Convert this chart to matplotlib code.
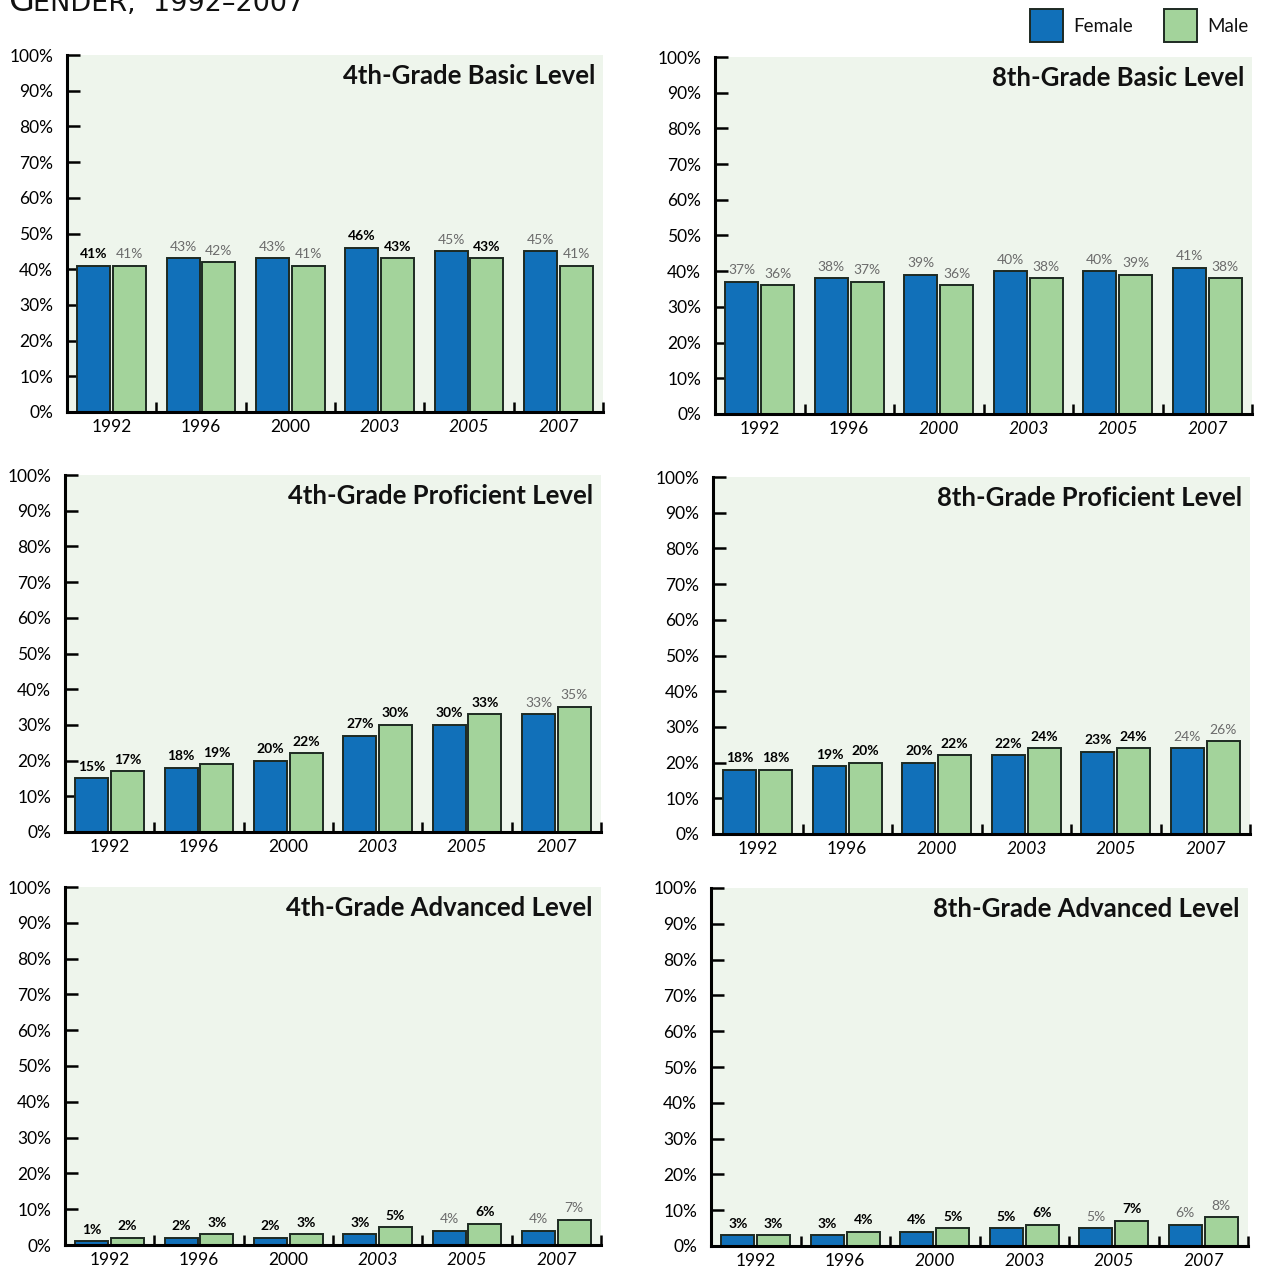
"""
NAEP reading levels by gender, 1992-2007 (six panels, female vs male).
"""

import matplotlib.pyplot as plt
from matplotlib.patches import Rectangle
import numpy as np

plt.rcParams["font.family"] = ["Lato", "DejaVu Sans"]

# ── data ──────────────────────────────────────────────────────────────────────
years = ["1992", "1996", "2000", "2003", "2005", "2007"]

titles = [
    "4th-Grade Basic Level", "8th-Grade Basic Level",
    "4th-Grade Proficient Level", "8th-Grade Proficient Level",
    "4th-Grade Advanced Level", "8th-Grade Advanced Level",
]

female = [
    [41, 43, 43, 46, 45, 45],
    [37, 38, 39, 40, 40, 41],
    [15, 18, 20, 27, 30, 33],
    [18, 19, 20, 22, 23, 24],
    [1, 2, 2, 3, 4, 4],
    [3, 3, 4, 5, 5, 6],
]
male = [
    [41, 42, 41, 43, 43, 41],
    [36, 37, 36, 38, 39, 38],
    [17, 19, 22, 30, 33, 35],
    [18, 20, 22, 24, 24, 26],
    [2, 3, 3, 5, 6, 7],
    [3, 4, 5, 6, 7, 8],
]

# 1 = label shown bold/black, 0 = plain/grey
female_bold = [
    [1, 0, 0, 1, 0, 0],
    [0, 0, 0, 0, 0, 0],
    [1, 1, 1, 1, 1, 0],
    [1, 1, 1, 1, 1, 0],
    [1, 1, 1, 1, 0, 0],
    [1, 1, 1, 1, 0, 0],
]
male_bold = [
    [0, 0, 0, 1, 1, 0],
    [0, 0, 0, 0, 0, 0],
    [1, 1, 1, 1, 1, 0],
    [1, 1, 1, 1, 1, 0],
    [1, 1, 1, 1, 1, 0],
    [1, 1, 1, 1, 1, 0],
]

# italic year labels (4th grade vs 8th grade panels)
italic_4th = [0, 0, 0, 1, 1, 1]
italic_8th = [0, 0, 1, 1, 1, 1]

COLORS = {
    "female": "#1170B9",
    "male":   "#A3D39B",
    "edge":   "#1E2A22",
    "panel":  "#EEF5EC",
    "grey":   "#6B6B6B",
}

W, H = 1261, 1270
# (left, top, right, bottom) of each plot area in pixels
PANELS = [
    (67, 55, 603, 412), (715, 57, 1252, 414),
    (65, 475, 601, 832), (713, 477, 1250, 834),
    (65, 887, 601, 1245), (711, 888, 1248, 1246),
]


def draw_panel(ax, k):
    x = np.arange(len(years))
    bw, off = 0.37, 0.2
    ax.set_facecolor(COLORS["panel"])
    ax.bar(x - off, female[k], bw, color=COLORS["female"],
           edgecolor=COLORS["edge"], linewidth=1.4, zorder=3)
    ax.bar(x + off, male[k], bw, color=COLORS["male"],
           edgecolor=COLORS["edge"], linewidth=1.4, zorder=3)

    for i in range(len(years)):
        for xx, v, b in ((x[i] - off, female[k][i], female_bold[k][i]),
                         (x[i] + off, male[k][i], male_bold[k][i])):
            ax.annotate(f"{v}%", (xx, v), xytext=(0, 4), textcoords="offset points",
                        ha="center", va="bottom", fontsize=10,
                        fontweight="bold" if b else "normal",
                        color="black" if b else COLORS["grey"], zorder=4)

    ax.set_xlim(-0.5, len(years) - 0.5)
    ax.set_ylim(0, 100)
    ax.set_yticks(range(0, 101, 10))
    ax.set_yticklabels([f"{t}%" for t in range(0, 101, 10)])
    ax.tick_params(axis="y", direction="in", length=9, width=1.8,
                   labelsize=12.5, pad=10)

    # boundary ticks between year groups, labels at group centres
    ax.set_xticks(x + 0.5)
    ax.set_xticklabels([])
    ax.tick_params(axis="x", which="major", direction="in", length=7, width=1.8)
    ax.set_xticks(x, minor=True)
    ax.set_xticklabels(years, minor=True)
    ax.tick_params(axis="x", which="minor", length=0, labelsize=12.5, pad=5)
    ital = italic_4th if k % 2 == 0 else italic_8th
    for lab, it in zip(ax.get_xticklabels(minor=True), ital):
        if it:
            lab.set_fontstyle("italic")

    for s in ("top", "right"):
        ax.spines[s].set_visible(False)
    for s in ("left", "bottom"):
        ax.spines[s].set_linewidth(2.2)
        ax.spines[s].set_zorder(5)

    ax.text(0.985, 0.975, titles[k], transform=ax.transAxes, ha="right",
            va="top", fontsize=18.5, fontweight="bold", color="#111111", zorder=6)


fig = plt.figure(figsize=(W / 100, H / 100), dpi=100)
fig.patch.set_facecolor("white")

for k, (l, t, r, b) in enumerate(PANELS):
    ax = fig.add_axes([l / W, 1 - b / H, (r - l) / W, (b - t) / H])
    draw_panel(ax, k)

# ── title (cut off at top, as in the source page) ────────────────────────────
fig.text(8 / W, 1 - 11 / H, "G", fontsize=24, color="#111111",
         va="baseline", ha="left", family="DejaVu Sans")
fig.text(33 / W, 1 - 11 / H, "ENDER,  1992–2007", fontsize=19.5, color="#111111",
         va="baseline", ha="left", family="DejaVu Sans")

# ── legend ───────────────────────────────────────────────────────────────────
for x0, col, lab in ((1030, COLORS["female"], "Female"),
                     (1164, COLORS["male"], "Male")):
    fig.add_artist(Rectangle((x0 / W, 1 - 42 / H), 33 / W, 33 / H,
                             transform=fig.transFigure, facecolor=col,
                             edgecolor=COLORS["edge"], linewidth=1.4))
    fig.text((x0 + 43) / W, 1 - 26 / H, lab, fontsize=13.5, va="center",
             ha="left", color="#111111")

fig.savefig("out.png", dpi=100, facecolor="white")
